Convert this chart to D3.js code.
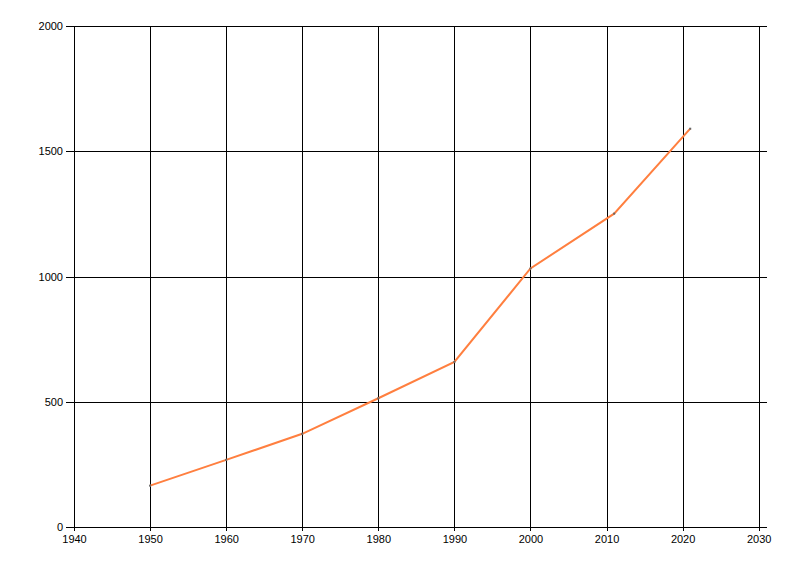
<!DOCTYPE html>
<html>
<head>
<meta charset="utf-8">
<script src="https://cdn.jsdelivr.net/npm/d3@7"></script>
<style>
  body { margin: 0; background: #fff; }
  svg text { font-family: "Liberation Sans", "DejaVu Sans", sans-serif; font-size: 11px; fill: #000; }
</style>
</head>
<body>
<div id="chart"></div>
<script>
// data
var years = [1950, 1960, 1970, 1980, 1990, 2000, 2011, 2021];
var values = [165, 268, 372, 514, 659, 1032, 1251, 1590];
var xTicks = [1940, 1950, 1960, 1970, 1980, 1990, 2000, 2010, 2020, 2030];
var yTicks = [0, 500, 1000, 1500, 2000];

var width = 800, height = 576;
var plotLeft = 74, plotRight = 767, plotTop = 26, plotBottom = 527;

var svg = d3.select('#chart')
  .append('svg')
  .attr('width', width)
  .attr('height', height);

var x = d3.scaleLinear().domain([1940, 2030]).range([plotLeft, 758.7]);
var y = d3.scaleLinear().domain([0, 2000]).range([plotBottom, plotTop]);

// grid
svg.append('g')
  .selectAll('line.v')
  .data(xTicks)
  .enter()
  .append('line')
  .attr('class', 'v')
  .attr('x1', d => Math.round(x(d)) + 0.5)
  .attr('x2', d => Math.round(x(d)) + 0.5)
  .attr('y1', plotTop)
  .attr('y2', plotBottom + 4)
  .style('stroke', '#000');

svg.append('g')
  .selectAll('line.h')
  .data(yTicks)
  .enter()
  .append('line')
  .attr('class', 'h')
  .attr('x1', plotLeft - 8)
  .attr('x2', plotRight)
  .attr('y1', d => Math.round(y(d)) + 0.5)
  .attr('y2', d => Math.round(y(d)) + 0.5)
  .style('stroke', '#000');

// axes (labels only, lines drawn above)
var xAxis = svg.append('g')
  .attr('transform', `translate(0,${plotBottom})`)
  .call(d3.axisBottom(x).tickValues(xTicks).tickFormat(d3.format('d')).tickSize(0).tickPadding(8));
xAxis.select('.domain').remove();
xAxis.selectAll('text').style('font-size', '11px').style('font-family', '"Liberation Sans", sans-serif');

var yAxis = svg.append('g')
  .attr('transform', `translate(${plotLeft},0)`)
  .call(d3.axisLeft(y).tickValues(yTicks).tickFormat(d3.format('d')).tickSize(0).tickPadding(11));
yAxis.select('.domain').remove();
yAxis.selectAll('text').style('font-size', '11px').style('font-family', '"Liberation Sans", sans-serif');

// series
var pts = years.map((d, i) => [d, values[i]]);
var line = d3.line().x(d => x(d[0])).y(d => y(d[1]));

svg.append('path')
  .datum(pts)
  .attr('d', line)
  .style('fill', 'none')
  .style('stroke', '#ff7f3f')
  .style('stroke-width', 2);

svg.append('g')
  .selectAll('rect')
  .data(pts)
  .enter()
  .append('rect')
  .attr('x', d => x(d[0]) - 1)
  .attr('y', d => y(d[1]) - 1)
  .attr('width', 2)
  .attr('height', 2)
  .style('fill', '#666');
</script>
</body>
</html>
